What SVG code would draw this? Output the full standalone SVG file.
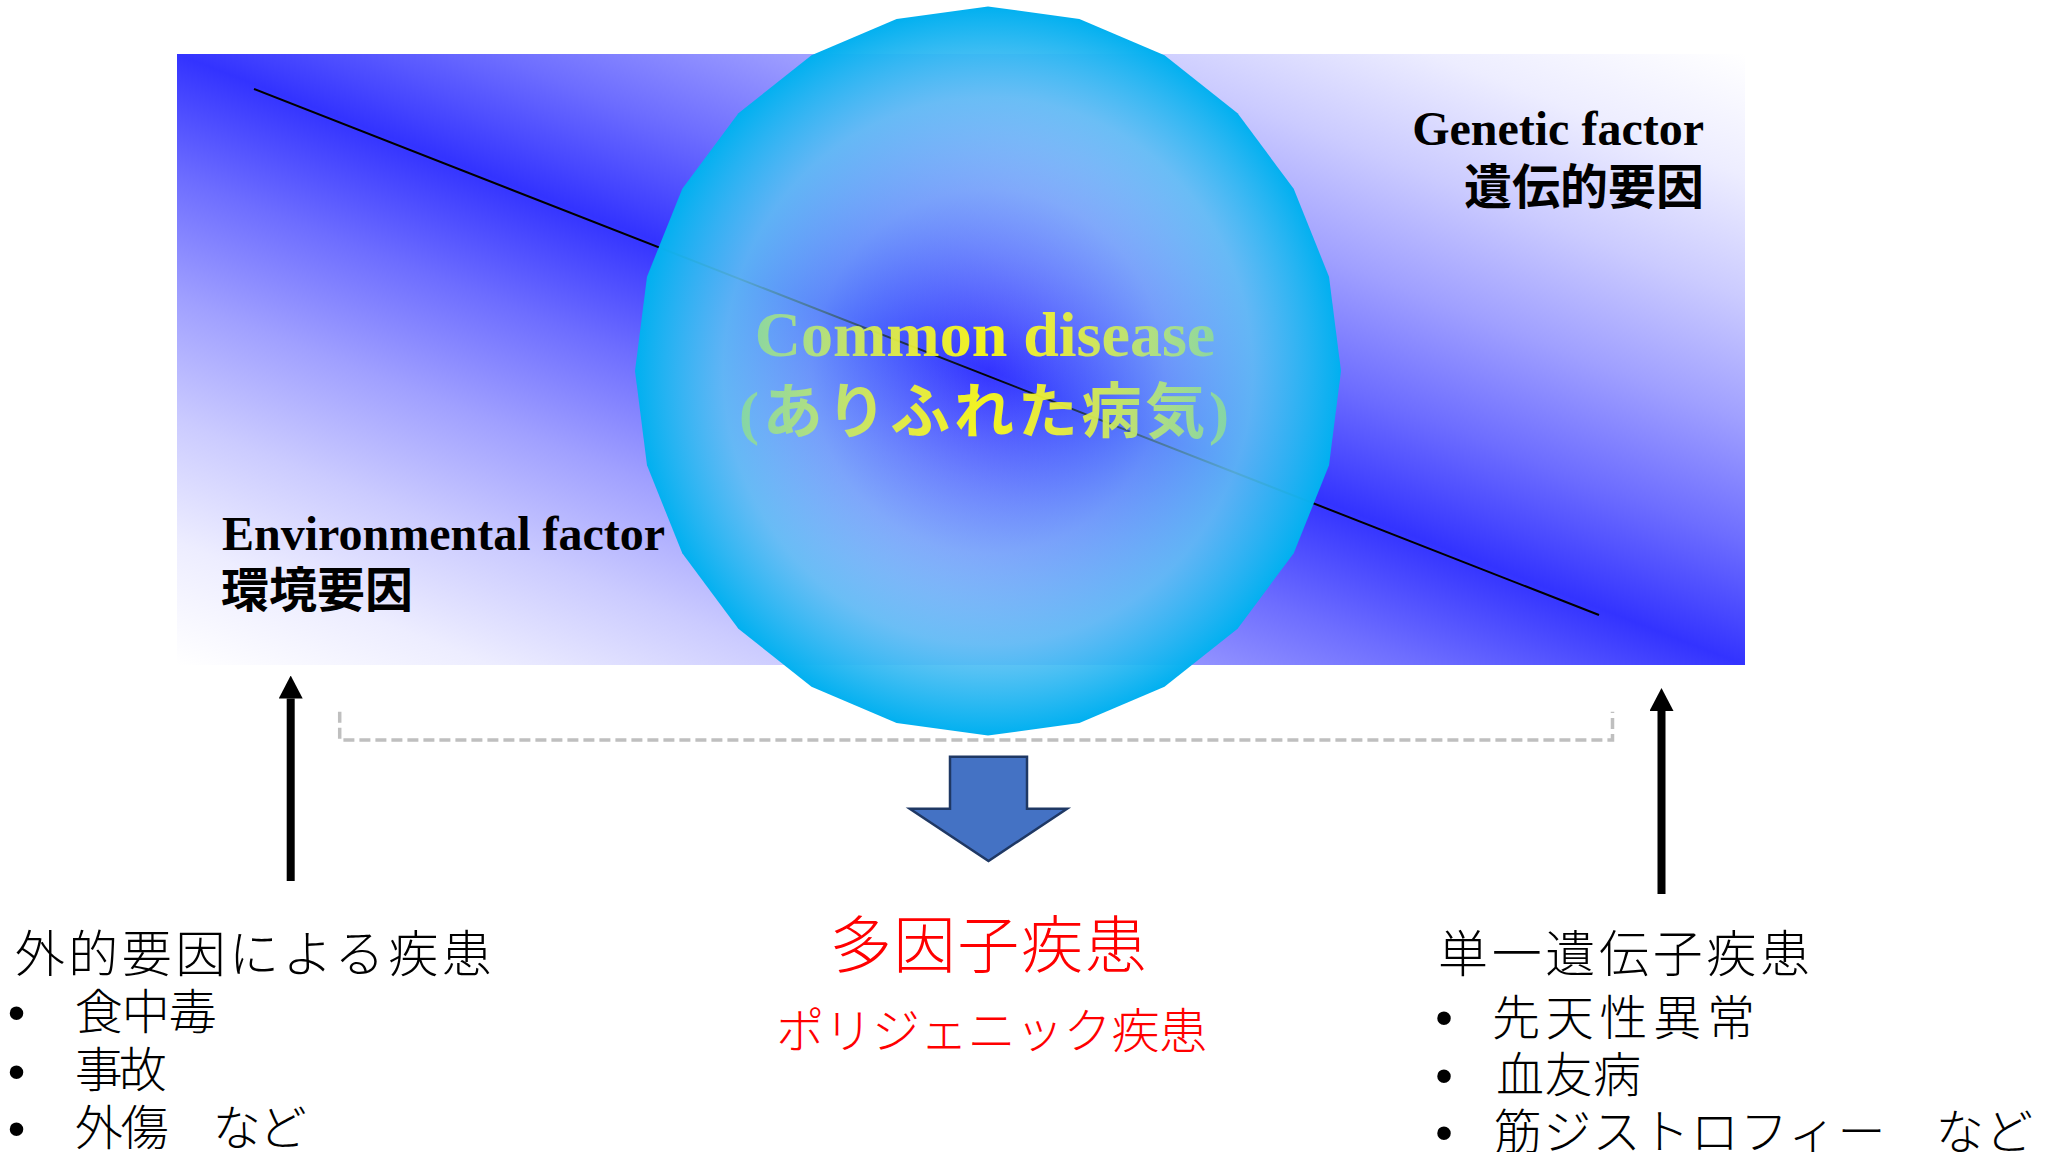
<svg xmlns="http://www.w3.org/2000/svg" width="2050" height="1152" viewBox="0 0 2050 1152">
<defs>
  <linearGradient id="bgGrad" x1="0" y1="1" x2="1" y2="0">
    <stop offset="0" stop-color="#FFFFFF"/>
    <stop offset="0.1" stop-color="#EDEDFF"/>
    <stop offset="0.2" stop-color="#CBCBFF"/>
    <stop offset="0.3" stop-color="#A0A0FF"/>
    <stop offset="0.4" stop-color="#6D6DFF"/>
    <stop offset="0.5" stop-color="#3333FF"/>
    <stop offset="0.6" stop-color="#6D6DFF"/>
    <stop offset="0.7" stop-color="#A0A0FF"/>
    <stop offset="0.8" stop-color="#CBCBFF"/>
    <stop offset="0.9" stop-color="#EDEDFF"/>
    <stop offset="1" stop-color="#FFFFFF"/>
  </linearGradient>
  <radialGradient id="ballGrad" cx="0.5" cy="0.5" r="0.5">
    <stop offset="0" stop-color="#5A8CFF" stop-opacity="0"/>
    <stop offset="0.5" stop-color="#7ABEF8" stop-opacity="0.6"/>
    <stop offset="0.75" stop-color="#60C0F4" stop-opacity="0.87"/>
    <stop offset="1" stop-color="#00B0F0" stop-opacity="1"/>
  </radialGradient>
  <linearGradient id="yellowGrad" gradientUnits="userSpaceOnUse" x1="739" y1="0" x2="1229" y2="0">
    <stop offset="0" stop-color="#86D8A2"/>
    <stop offset="0.15" stop-color="#B4E47A"/>
    <stop offset="0.35" stop-color="#EEF336"/>
    <stop offset="0.5" stop-color="#FFFF10"/>
    <stop offset="0.65" stop-color="#EEF336"/>
    <stop offset="0.85" stop-color="#B4E47A"/>
    <stop offset="1" stop-color="#86D8A2"/>
  </linearGradient>
  <marker id="arrowHead" viewBox="0 0 23 24" refX="0" refY="12" markerWidth="23" markerHeight="24" markerUnits="userSpaceOnUse" orient="auto">
    <path d="M0,0 L23,12 L0,24 Z" fill="#000000"/>
  </marker>
</defs>
<style>
  .serifB { font-family: "Liberation Serif", "Times New Roman", serif; font-weight: bold; }
  .jp { font-family: "Noto Sans CJK JP", sans-serif; font-weight: 300; }
  .jpB { font-family: "Noto Sans CJK JP", sans-serif; font-weight: bold; }
  .bullet { font-family: "Liberation Sans", Arial, sans-serif; font-size: 50px; text-anchor: middle; }
  .red { fill: #FF0000; }
  .black { fill: #000000; }
  .glow { fill: url(#yellowGrad); fill-opacity: 0.93; }
</style>

<g id="background">
  <rect x="177" y="54" width="1568" height="611" fill="url(#bgGrad)"/>
  <line x1="254" y1="89" x2="1599" y2="615" stroke="#000000" stroke-width="2"/>
</g>

<g id="common-disease">
  <polygon fill="url(#ballGrad)" points="988,6.5 1079.4,18.9 1164.5,55.3 1237.6,113.3 1293.7,188.75 1329,276.65 1341,371 1329,465.35 1293.7,553.25 1237.6,628.7 1164.5,686.7 1079.4,723.1 988,735.5 896.6,723.1 811.5,686.7 738.4,628.7 682.3,553.25 647,465.35 635,371 647,276.65 682.3,188.75 738.4,113.3 811.5,55.3 896.6,18.9"/>
  <text class="serifB glow" x="985" y="356" font-size="64" text-anchor="middle">Common disease</text>
  <text class="glow" x="739" y="433" font-size="60" font-weight="bold" textLength="490" lengthAdjust="spacing" font-family="Noto Sans CJK JP, sans-serif"><tspan font-family="Liberation Serif, serif">(</tspan>ありふれた病気<tspan font-family="Liberation Serif, serif">)</tspan></text>
</g>

<g id="genetic-factor">
  <text class="serifB black" x="1704" y="145" font-size="48" text-anchor="end">Genetic factor</text>
  <text class="jpB black" x="1704" y="204" font-size="48" text-anchor="end">遺伝的要因</text>
</g>

<g id="environmental-factor">
  <text class="serifB black" x="222" y="550" font-size="48">Environmental factor</text>
  <text class="jpB black" x="221" y="607" font-size="48">環境要因</text>
</g>

<g id="external-diseases">
  <text class="jp black" x="14.7" y="972" font-size="50" textLength="477" lengthAdjust="spacing">外的要因による疾患</text>
  <text class="bullet black" x="16.5" y="1030">•</text>
  <text class="jp black" x="74.7" y="1029" font-size="48" textLength="142" lengthAdjust="spacing">食中毒</text>
  <text class="bullet black" x="16.5" y="1089">•</text>
  <text class="jp black" x="74.7" y="1087" font-size="48" textLength="92" lengthAdjust="spacing">事故</text>
  <text class="bullet black" x="16.5" y="1146">•</text>
  <text class="jp black" x="74.7" y="1145" font-size="48" textLength="232" lengthAdjust="spacing">外傷　など</text>
</g>

<g id="multifactorial">
  <text class="jp red" x="829.7" y="968" font-size="62" textLength="317" lengthAdjust="spacing">多因子疾患</text>
  <text class="jp red" x="776.3" y="1048" font-size="48" textLength="431" lengthAdjust="spacing">ポリジェニック疾患</text>
</g>

<g id="single-gene">
  <text class="jp black" x="1438" y="972" font-size="50" textLength="372" lengthAdjust="spacing">単一遺伝子疾患</text>
  <text class="bullet black" x="1444" y="1035">•</text>
  <text class="jp black" x="1492" y="1035" font-size="48" textLength="263" lengthAdjust="spacing">先天性異常</text>
  <text class="bullet black" x="1444" y="1093">•</text>
  <text class="jp black" x="1496" y="1092" font-size="48" textLength="145" lengthAdjust="spacing">血友病</text>
  <text class="bullet black" x="1444" y="1150">•</text>
  <text class="jp black" x="1494" y="1149" font-size="48" textLength="539" lengthAdjust="spacing">筋ジストロフィー　など</text>
</g>

<g id="connectors">
  <line x1="290.7" y1="881" x2="290.7" y2="698.5" stroke="#000000" stroke-width="8" marker-end="url(#arrowHead)"/>
  <line x1="1661.5" y1="894" x2="1661.5" y2="711" stroke="#000000" stroke-width="8" marker-end="url(#arrowHead)"/>
  <path d="M339.7,711.7 V740 H1612.5 V711.7" fill="none" stroke="#BFBFBF" stroke-width="3.5" stroke-dasharray="11 5"/>
  <polygon points="950,756.7 1027,756.7 1027,808.7 1067,808.7 988.5,861 909.8,808.7 950,808.7" fill="#4472C4" stroke="#1F3864" stroke-width="2.5"/>
</g>
</svg>
